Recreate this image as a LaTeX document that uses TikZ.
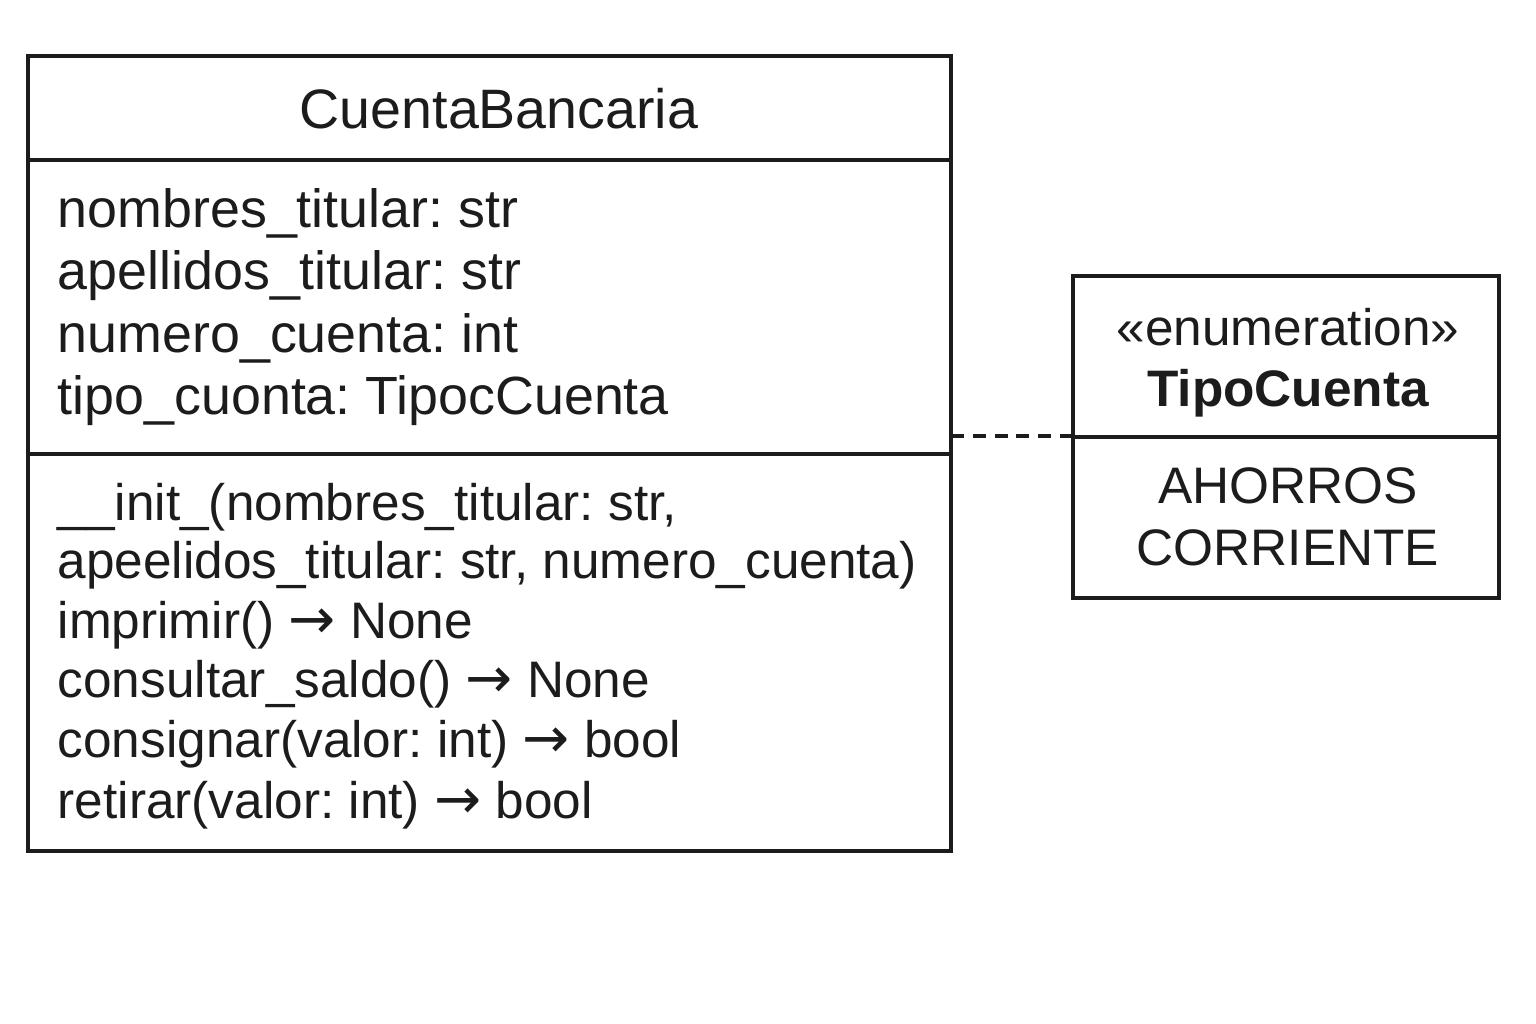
\documentclass[tikz,border=0pt]{standalone}
\usepackage{fontspec}
\setmainfont{Liberation Sans}
\newfontfamily\arrowFont{DejaVu Sans}
\frenchspacing
\tikzstyle{diagram} = [x = 0.01cm, y = -0.01cm]
\definecolor{lineColor}{RGB}{28,28,28}
\tikzstyle{boxStyle} = [color=lineColor, line width=1pt]
\tikzstyle{dependencyLine} = [color=lineColor, line width=1pt, dash pattern=on 0.13cm off 0.088cm]
\tikzstyle{titleText} = [anchor=base, inner sep=0pt, text=lineColor, font=\fontsize{15.8pt}{18pt}\selectfont]
\tikzstyle{memberText} = [anchor=base west, inner sep=0pt, text=lineColor, font=\fontsize{15.3pt}{18pt}\selectfont]
\tikzstyle{methodText} = [anchor=base west, inner sep=0pt, text=lineColor, font=\fontsize{14.6pt}{17pt}\selectfont]
\tikzstyle{enumText} = [anchor=base, inner sep=0pt, text=lineColor, font=\fontsize{14.6pt}{17pt}\selectfont]
\newcommand{\returns}{{\arrowFont\fontsize{16pt}{18pt}\selectfont →}}
\newcommand{\classBox}[5]{\draw [boxStyle] (#1, #2) rectangle (#3, #4); \draw [boxStyle] (#1, #5) -- (#3, #5);}
\newcommand{\memberLine}[3]{\node [memberText] (#1) at (57, #2) {#3};}
\newcommand{\methodLine}[3]{\node [methodText] (#1) at (57, #2) {#3};}
\newcommand{\enumLine}[3]{\node [enumText] (#1) at (1288, #2) {#3};}

\begin{document}
\begin{tikzpicture}[diagram]
  \useasboundingbox (0,0) rectangle (1536,1024);
  % CuentaBancaria
  \classBox{28}{56}{951}{851}{160}
  \draw [boxStyle] (28, 454) -- (951, 454);
  \node [titleText] (cuentaTitle) at (499, 128) {CuentaBancaria};
  \memberLine{nombres}{227}{nombres\_titular: str}
  \memberLine{apellidos}{289}{apellidos\_titular: str}
  \memberLine{numero}{352}{numero\_cuenta: int}
  \memberLine{tipo}{414}{tipo\_cuonta: TipocCuenta}
  \methodLine{init}{520}{\_\_init\_(nombres\_titular: str,}
  \methodLine{initArgs}{578}{apeelidos\_titular: str, numero\_cuenta)}
  \methodLine{imprimir}{638}{imprimir() \returns{} None}
  \methodLine{consultar}{697}{consultar\_saldo() \returns{} None}
  \methodLine{consignar}{757}{consignar(valor: int) \returns{} bool}
  \methodLine{retirar}{818}{retirar(valor: int) \returns{} bool}
  % TipoCuenta
  \classBox{1073}{276}{1499}{598}{437}
  \enumLine{stereotype}{345}{«enumeration»}
  \enumLine{tipoTitle}{406}{\bfseries TipoCuenta}
  \enumLine{ahorros}{503}{AHORROS}
  \enumLine{corriente}{565}{CORRIENTE}
  \coordinate (cuentaEdge) at (951, 436);
  \coordinate (tipoEdge) at (1073, 436);
  \draw [dependencyLine] (cuentaEdge) -- (tipoEdge);
\end{tikzpicture}
\end{document}
